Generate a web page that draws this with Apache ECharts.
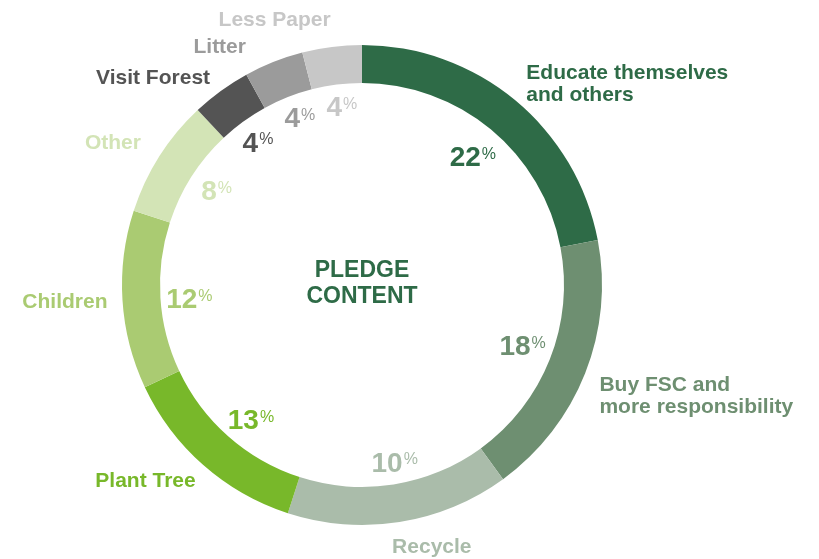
<!DOCTYPE html>
<html>
<head>
<meta charset="utf-8">
<script src="https://cdn.jsdelivr.net/npm/echarts@6/dist/echarts.min.js"></script>
<style>
html,body{margin:0;padding:0;background:#fff;}
#chart{width:819px;height:559px;}
</style>
</head>
<body>
<div id="chart"></div>
<script>
// Data (arc sizes) and the printed percentage labels
var categories = ['Educate themselves\nand others', 'Buy FSC and\nmore responsibility', 'Recycle', 'Plant Tree', 'Children', 'Other', 'Visit Forest', 'Litter', 'Less Paper'];
var values = [22, 18, 15, 13, 12, 8, 4, 4, 4];
var pctLabels = ['22', '18', '10', '13', '12', '8', '4', '4', '4'];
var colors = ['#2e6b47', '#6e8f71', '#aabcaa', '#78b82a', '#aacb72', '#d3e4b6', '#545454', '#9b9b9b', '#c7c7c7'];
var nameOffsets = [[0, -8], [0, 19], [-14, 15], [4, 9], [0, 2], [-5, -8], [0, -5], [-19, -5], [5, -17]];
var pctOffsets = [[-2, 11], [-4, -2], [5, 5], [6, 5], [4, 5], [4, 3], [0, 3], [3, 0], [2, 0]];

var FONT = '"Liberation Sans", Arial, Helvetica, sans-serif';
var chart = echarts.init(document.getElementById('chart'), null, {renderer: 'canvas'});

var ringData = categories.map(function (c, i) {
  return {name: c, value: values[i], itemStyle: {color: colors[i]}, label: {color: colors[i]}};
});
var pctData = categories.map(function (c, i) {
  return {name: c, value: values[i], label: {color: colors[i]}};
});

chart.setOption({
  animation: false,
  backgroundColor: '#ffffff',
  title: {
    text: 'PLEDGE\nCONTENT',
    left: 357,
    top: 253,
    textAlign: 'center',
    textStyle: {fontFamily: FONT, fontWeight: 'bold', fontSize: 23, lineHeight: 26, color: '#2e6b47'}
  },
  series: [
    {
      type: 'pie',
      center: [362, 285],
      radius: [202, 240],
      startAngle: 90,
      clockwise: true,
      avoidLabelOverlap: false,
      silent: true,
      itemStyle: {borderWidth: 0},
      label: {
        show: true,
        position: 'outside',
        formatter: '{b}',
        fontFamily: FONT,
        fontWeight: 'bold',
        fontSize: 21,
        lineHeight: 22,
        distanceToLabelLine: 5
      },
      labelLine: {show: false, length: 10, length2: 0},
      labelLayout: function (p) {
        var o = nameOffsets[p.dataIndex];
        return {dx: o[0], dy: o[1]};
      },
      data: ringData
    },
    {
      type: 'pie',
      center: [362, 285],
      radius: [164, 184],
      startAngle: 90,
      clockwise: true,
      silent: true,
      avoidLabelOverlap: false,
      itemStyle: {color: 'rgba(0,0,0,0)', borderWidth: 0},
      label: {
        show: true,
        position: 'inside',
        formatter: function (p) { return '{n|' + pctLabels[p.dataIndex] + '}{p|%}'; },
        rich: {
          n: {fontFamily: FONT, fontWeight: 'bold', fontSize: 28, lineHeight: 30, verticalAlign: 'top'},
          p: {fontFamily: FONT, fontSize: 16, lineHeight: 30, verticalAlign: 'top', padding: [2, 0, 0, 1]}
        }
      },
      labelLayout: function (p) {
        var o = pctOffsets[p.dataIndex];
        return {dx: o[0], dy: o[1]};
      },
      labelLine: {show: false},
      data: pctData
    }
  ]
});
</script>
</body>
</html>
